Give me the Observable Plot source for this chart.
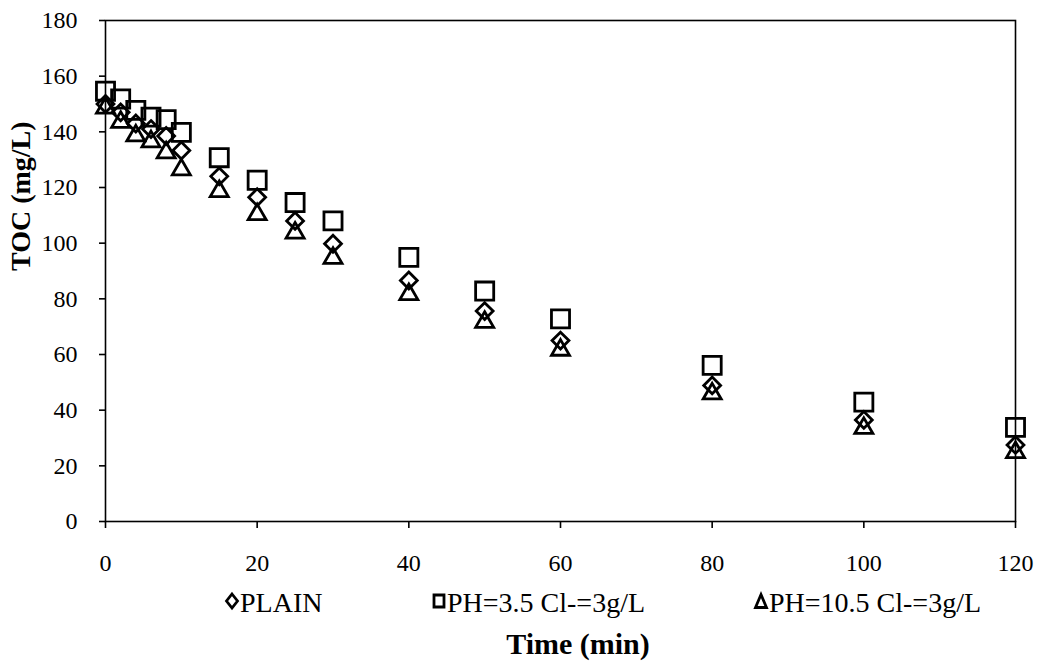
<!DOCTYPE html>
<html>
<head>
<meta charset="utf-8">
<script src="https://cdn.jsdelivr.net/npm/d3@7"></script>
<script src="https://cdn.jsdelivr.net/npm/@observablehq/plot@0.6"></script>
<style>
  html, body { margin: 0; padding: 0; background: #fff; }
  #wrap { width: 1037px; position: relative; font-family: "Liberation Serif", "Times New Roman", serif; color: #000; }
  #legend { position: relative; height: 42px; width: 1037px; }
  .item { position: absolute; top: 11px; font-size: 28px; line-height: 1; white-space: nowrap; }
  .item svg { position: absolute; overflow: visible; }
  #xtitle { position: relative; height: 41px; width: 1037px; }
  #xtitle span { position: absolute; top: 9px; left: 578px; transform: translateX(-50%); font-size: 30px; font-weight: bold; line-height: 1; white-space: nowrap; }
</style>
</head>
<body>
<div id="wrap"></div>
<script>
// ---- data ----
const time  = [0, 2, 4, 6, 8, 10, 15, 20, 25, 30, 40, 50, 60, 80, 100, 120];
const plain = [150, 147, 143, 141, 138.5, 133.3, 124, 116.5, 108, 99.8, 86.6, 75.6, 65, 48.9, 36.5, 27.5];
const ph35  = [154.6, 151.8, 147.7, 145.3, 144.4, 139.8, 130.7, 122.6, 114.6, 108, 94.9, 82.8, 72.8, 56.1, 42.9, 33.8];
const ph105 = [148.6, 143.5, 138.6, 136.5, 132.5, 126.4, 118.6, 110.3, 103.7, 94.6, 81.6, 71.6, 61.6, 45.9, 33.5, 24.8];
const seriesNames = ["PLAIN", "PH=3.5 Cl-=3g/L", "PH=10.5 Cl-=3g/L"];
const xTicks = [0, 20, 40, 60, 80, 100, 120];
const yTicks = [0, 20, 40, 60, 80, 100, 120, 140, 160, 180];
const xTitle = "Time (min)";
const yTitle = "TOC (mg/L)";

const rows = (vals) => time.map((t, i) => ({t, v: vals[i]}));

const chart = Plot.plot({
  width: 1037,
  height: 578,
  marginLeft: 105,
  marginRight: 22,
  marginTop: 20,
  marginBottom: 57,
  style: {fontFamily: '"Liberation Serif", "Times New Roman", serif', fontSize: "24px", color: "#000", background: "#fff"},
  x: {domain: [0, 120]},
  y: {domain: [0, 180]},
  marks: [
    Plot.frame({stroke: "#000", strokeWidth: 1.6}),
    Plot.axisX({ticks: xTicks, tickSize: 7, tickPadding: 25, strokeWidth: 1.6, label: null, fontSize: 24, tickFormat: d => String(d)}),
    Plot.axisY({ticks: yTicks, tickSize: 6, tickPadding: 22, strokeWidth: 1.6, label: null, fontSize: 24, tickFormat: d => String(d)}),
    Plot.text([yTitle], {frameAnchor: "left", dx: -84, rotate: -90, text: d => d, fontSize: 28, fontWeight: "bold", fill: "#000"}),
    Plot.dot(rows(plain), {x: "t", y: "v", symbol: "diamond2", r: 7.6, stroke: "#000", strokeWidth: 2.8, fill: "none"}),
    Plot.dot(rows(ph35),  {x: "t", y: "v", symbol: "square",   r: 10.2, stroke: "#000", strokeWidth: 2.8, fill: "none"}),
    Plot.dot(rows(ph105), {x: "t", y: "v", symbol: "triangle2", r: 8.6, stroke: "#000", strokeWidth: 2.8, fill: "none"})
  ]
});

const wrap = document.getElementById("wrap");
wrap.appendChild(chart);

// legend (HTML, below the SVG)
const legend = document.createElement("div");
legend.id = "legend";
const legendSymbols = [
  {left: 226, path: "M6,1 L11.5,8 L6,15 L0.5,8 Z", w: 12},
  {left: 433, path: "M1,2 H11 V14 H1 Z", w: 12},
  {left: 755, path: "M6,1.5 L11.5,14.5 H0.5 Z", w: 12}
];
seriesNames.forEach((name, i) => {
  const s = legendSymbols[i];
  const item = document.createElement("div");
  item.className = "item";
  item.style.left = s.left + "px";
  item.innerHTML = `<svg width="${s.w}" height="16" style="left:0;top:4px"><path d="${s.path}" fill="none" stroke="#000" stroke-width="2.8"/></svg><span style="margin-left:${s.w + 2}px">${name}</span>`;
  legend.appendChild(item);
});
wrap.appendChild(legend);

const xt = document.createElement("div");
xt.id = "xtitle";
xt.innerHTML = `<span>${xTitle}</span>`;
wrap.appendChild(xt);
</script>
</body>
</html>
